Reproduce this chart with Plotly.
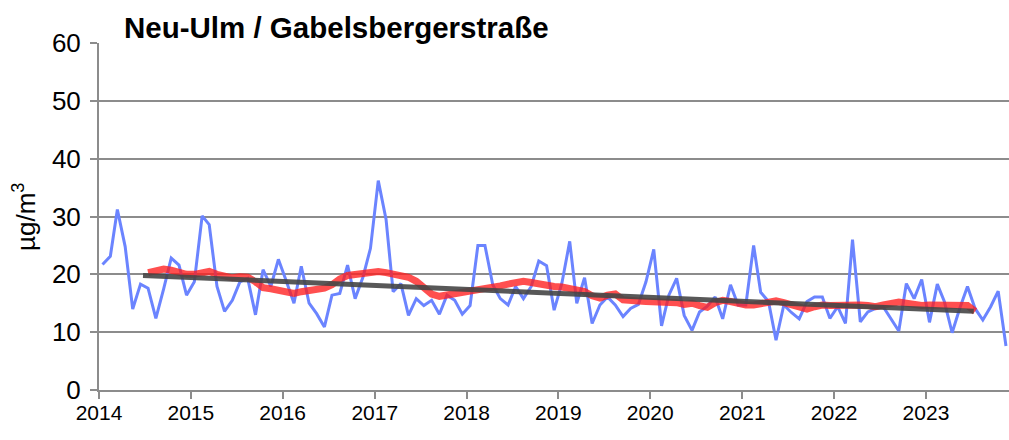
import pandas as pd
import plotly.graph_objects as go

# ---- data ----
start_month = "2014-01-01"
monthly_values = [
    21.7, 23.1, 31.2, 24.8, 14.0, 18.3, 17.6, 12.4, 17.5, 22.8, 21.6, 16.4,   # 2014
    18.7, 30.1, 28.6, 17.9, 13.6, 15.5, 18.7, 19.3, 13.0, 20.8, 17.9, 22.6,   # 2015
    18.9, 15.0, 21.4, 15.0, 13.2, 10.9, 16.4, 16.7, 21.6, 15.8, 19.5, 24.5,   # 2016
    36.2, 29.5, 17.0, 18.4, 12.9, 15.8, 14.6, 15.5, 13.1, 16.4, 15.5, 13.1,   # 2017
    14.6, 25.0, 25.0, 18.2, 15.8, 14.7, 17.9, 15.8, 17.9, 22.3, 21.5, 13.8,   # 2018
    18.5, 25.7, 15.0, 19.4, 11.5, 14.7, 16.1, 14.7, 12.7, 14.1, 14.8, 18.7,   # 2019
    24.3, 11.1, 16.4, 19.3, 12.9, 10.3, 13.5, 14.5, 16.1, 12.3, 18.2, 14.7,   # 2020
    14.7, 25.0, 16.9, 15.3, 8.6, 14.7, 13.4, 12.3, 15.3, 16.1, 16.1, 12.4,    # 2021
    14.4, 11.5, 26.0, 11.8, 13.5, 14.1, 14.4, 12.4, 10.2, 18.4, 15.8, 19.1,   # 2022
    11.7, 18.3, 15.3, 9.9, 14.1, 17.9, 14.1, 12.1, 14.4, 17.1, 7.6,           # 2023
]

avg_start_month = "2014-07-01"
moving_avg_values = [
    20.3, 20.6, 20.9, 20.7, 20.2, 20.0, 20.0, 20.2, 20.5, 20.0, 19.8, 19.4, 19.6,
    19.5, 18.7, 17.7, 17.5, 17.3, 17.0, 16.7, 17.0, 17.3, 17.4, 17.6, 18.2, 19.2,
    19.8, 20.0, 20.2, 20.4, 20.5, 20.3, 20.1,
    19.9, 19.5, 18.8, 17.6, 16.6, 16.2, 16.4, 16.7, 16.9,
    17.0, 17.1, 17.3, 17.6, 18.0, 18.3, 18.6, 18.8, 18.6, 18.3, 18.1,
    17.9, 17.8, 17.6, 17.4, 17.0, 16.3, 15.9, 16.4, 16.6, 15.6, 15.4, 15.4, 15.3,
    15.3, 15.0, 15.0, 15.1, 14.8, 15.0, 14.6,
    14.3, 15.1, 15.5, 15.3, 15.0, 14.7, 14.7, 15.0, 15.3, 15.4, 15.1, 14.7, 14.2,
    14.0, 14.4, 14.7, 14.6, 14.7, 14.7, 14.6,
    14.7, 14.6, 14.4, 14.7, 15.1, 15.2, 15.0, 14.7, 14.6, 14.7, 14.7, 14.7, 14.8,
    14.9, 14.6, 13.6,
]

trend_dates = ["2014-06-25", "2023-07-10"]
trend_values = [19.8, 13.6]

year_labels = ["2014", "2015", "2016", "2017", "2018", "2019", "2020", "2021", "2022", "2023"]
y_ticks = [0, 10, 20, 30, 40, 50, 60]

title_text = "Neu-Ulm / Gabelsbergerstraße"
unit_text = "µg/m<sup>3</sup>"

# ---- build ----
months = pd.date_range(start_month, periods=len(monthly_values), freq="MS") + pd.Timedelta(days=14)
avg_months = pd.date_range(avg_start_month, periods=len(moving_avg_values), freq="MS") + pd.Timedelta(days=14)
year_ticks = [f"{y}-01-01" for y in year_labels]

FONT = "Liberation Sans, Arial, sans-serif"
GRID = "#8c8c8c"

fig = go.Figure()
fig.add_trace(go.Scatter(x=months, y=monthly_values, mode="lines",
                         line=dict(color="#6b84ff", width=3), hoverinfo="skip"))
fig.add_trace(go.Scatter(x=avg_months, y=moving_avg_values, mode="lines",
                         line=dict(color="rgba(255,30,30,0.78)", width=7),
                         hoverinfo="skip"))
fig.add_trace(go.Scatter(x=trend_dates, y=trend_values, mode="lines",
                         line=dict(color="rgba(70,70,70,0.9)", width=5), hoverinfo="skip"))

fig.update_layout(
    width=1009, height=440,
    margin=dict(l=99, r=0, t=43, b=50),
    paper_bgcolor="white", plot_bgcolor="white",
    showlegend=False,
    font=dict(family=FONT, color="black"),
)
fig.update_xaxes(
    type="date", range=["2014-01-01", "2023-11-27"],
    tickmode="array", tickvals=year_ticks, ticktext=year_labels,
    tickfont=dict(size=21), ticks="outside", ticklen=7, tickwidth=2, tickcolor=GRID,
    ticklabelstandoff=-4,
    showline=True, linecolor=GRID, linewidth=2, showgrid=False, zeroline=False,
)
fig.update_yaxes(
    range=[0, 60], tickmode="array", tickvals=y_ticks,
    tickfont=dict(size=26), ticks="outside", ticklen=7, tickwidth=2, tickcolor=GRID,
    ticklabelstandoff=4,
    showline=True, linecolor=GRID, linewidth=2,
    showgrid=True, gridcolor=GRID, gridwidth=2, zeroline=False,
)
fig.add_annotation(text=f"<b>{title_text}</b>", xref="paper", yref="paper",
                   x=(122 - 99) / 910, y=(390 - 27) / 347, xanchor="left", yanchor="middle",
                   showarrow=False, font=dict(size=29.5, family=FONT, color="black"))
fig.add_annotation(text=unit_text, xref="paper", yref="paper",
                   x=(24 - 99) / 910, y=(390 - 217) / 347, xanchor="center", yanchor="middle",
                   textangle=-90, showarrow=False, font=dict(size=26, family=FONT, color="black"))

fig.write_html(
    "out.html",
    config={"displayModeBar": False, "staticPlot": True},
    post_script="document.body.style.margin='0';document.documentElement.style.overflow='hidden';document.body.style.overflow='hidden';",
)
